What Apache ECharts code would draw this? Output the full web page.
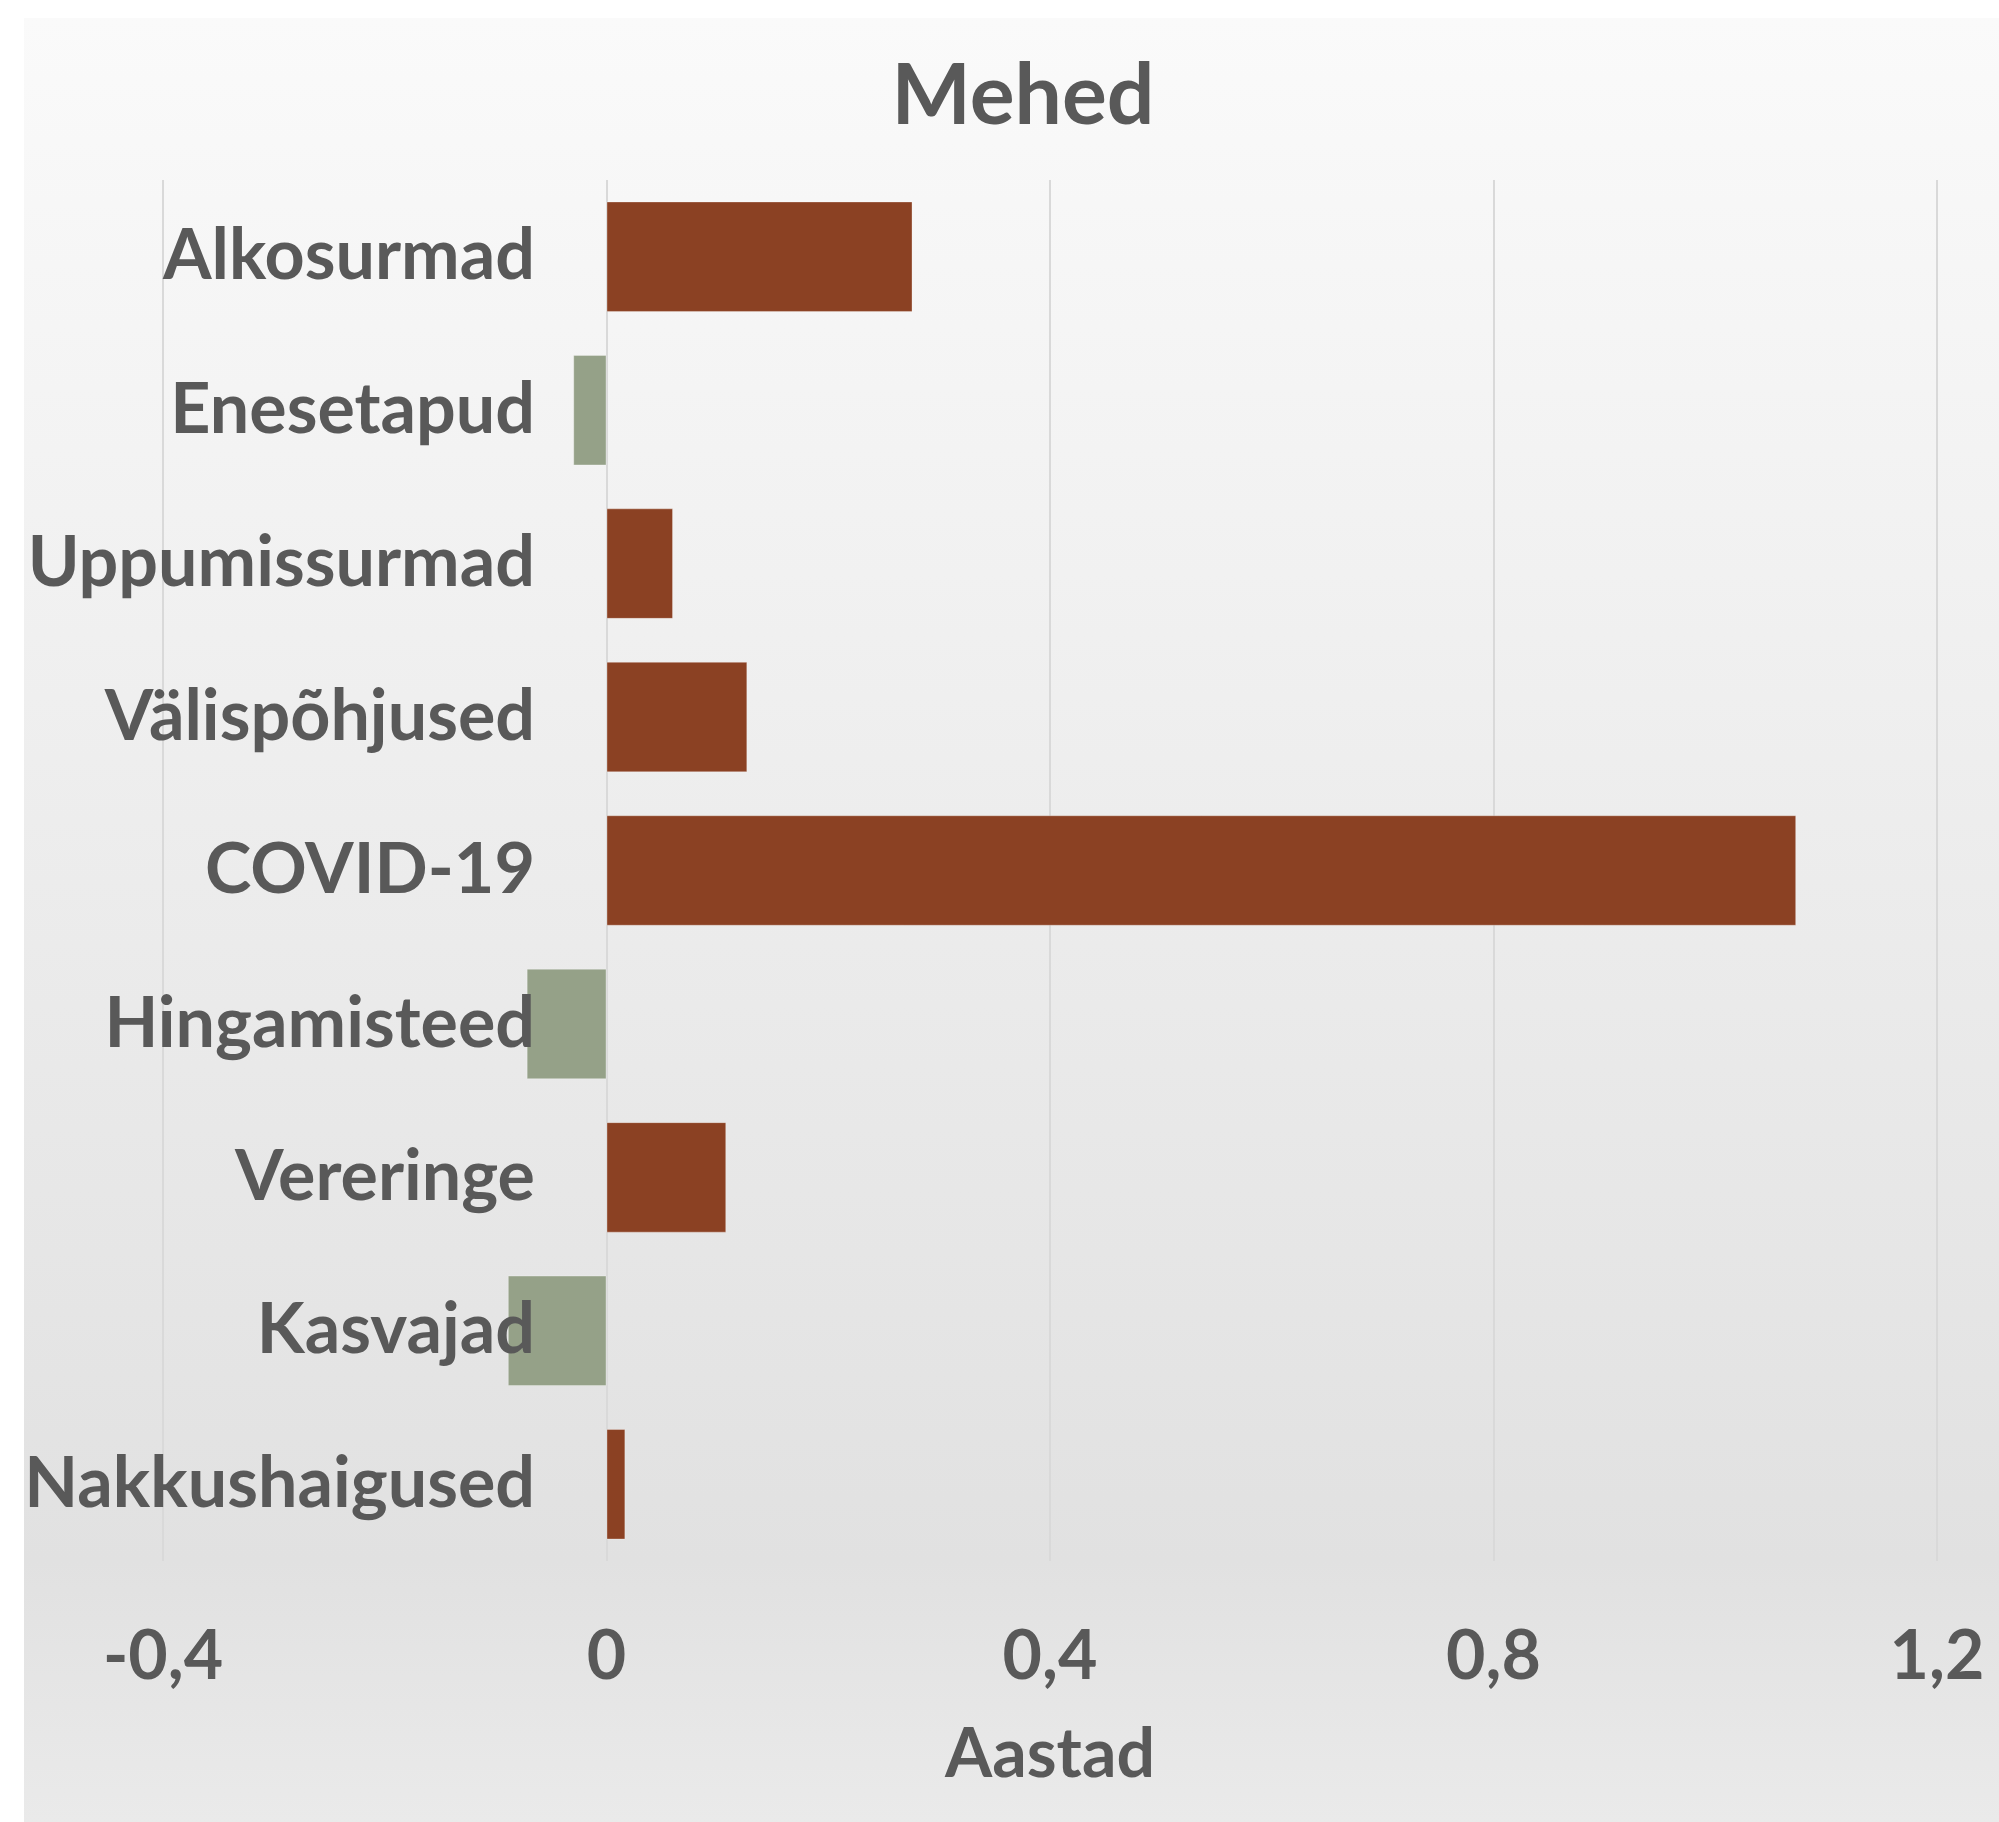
<!doctype html>
<html>
<head>
<meta charset="utf-8">
<title>Mehed</title>
<script src="https://cdn.jsdelivr.net/npm/echarts@6/dist/echarts.min.js"></script>
<style>
    html, body { margin: 0; padding: 0; background: #ffffff; }
    #chart { width: 1999px; height: 1822px; }
</style>
</head>
<body>
<div id="chart"></div>
<script type="text/javascript">
    // andmed
    var categories = ['Alkosurmad', 'Enesetapud', 'Uppumissurmad', 'Välispõhjused', 'COVID-19', 'Hingamisteed', 'Vereringe', 'Kasvajad', 'Nakkushaigused'];
    var values = [0.276, -0.030, 0.060, 0.127, 1.073, -0.072, 0.108, -0.089, 0.017];
    var xTicks = [-0.4, 0, 0.4, 0.8, 1.2];

    var textColor = '#595959';
    var fontName = 'Lato';

    var myChart = echarts.init(document.getElementById('chart'));
    var option = {
        animation: false,
        graphic: [{
            type: 'rect',
            z: -10,
            shape: { x: 24, y: 18, width: 1975, height: 1804 },
            style: {
                fill: new echarts.graphic.LinearGradient(0, 0, 0, 1, [
                    { offset: 0, color: '#fafafa' },
                    { offset: 0.855, color: '#e1e1e1' },
                    { offset: 1, color: '#eaeaea' }
                ])
            }
        }],
        title: {
            text: 'Mehed',
            left: 1018,
            textAlign: 'center',
            top: 50,
            textStyle: { fontFamily: fontName, fontSize: 84, fontWeight: 'bold', color: textColor }
        },
        grid: { left: 163, right: 62, top: 180, bottom: 261, containLabel: false, outerBoundsMode: 'none' },
        xAxis: {
            type: 'value',
            min: xTicks[0],
            max: xTicks[xTicks.length - 1],
            interval: 0.4,
            name: 'Aastad',
            nameLocation: 'middle',
            nameGap: 160,
            nameTextStyle: { fontFamily: fontName, fontSize: 68, fontWeight: 'bold', color: textColor },
            axisLine: { show: false },
            axisTick: { show: false },
            axisLabel: {
                margin: 62,
                fontFamily: fontName, fontSize: 68, fontWeight: 'bold', color: textColor,
                formatter: function (v) { return String(Math.round(v * 10) / 10).replace('.', ','); }
            },
            splitLine: { show: true, lineStyle: { color: '#d9d9d9', width: 2 } }
        },
        yAxis: {
            type: 'category',
            data: categories,
            inverse: true,
            z: 3,
            // kategooriate sildid nulljoone kõrval
            offset: -444,
            axisLine: { show: false, onZero: false },
            axisTick: { show: false },
            axisLabel: {
                margin: 72,
                fontFamily: fontName, fontSize: 70, fontWeight: 'bold', color: textColor
            }
        },
        series: [{
            type: 'bar',
            data: values,
            barCategoryGap: '28%',
            itemStyle: {
                color: function (p) { return p.value < 0 ? '#95a188' : '#8b4123'; },
                borderColor: 'rgba(255,255,255,0.3)',
                borderWidth: 1
            }
        }]
    };
    myChart.setOption(option);
</script>
</body>
</html>
